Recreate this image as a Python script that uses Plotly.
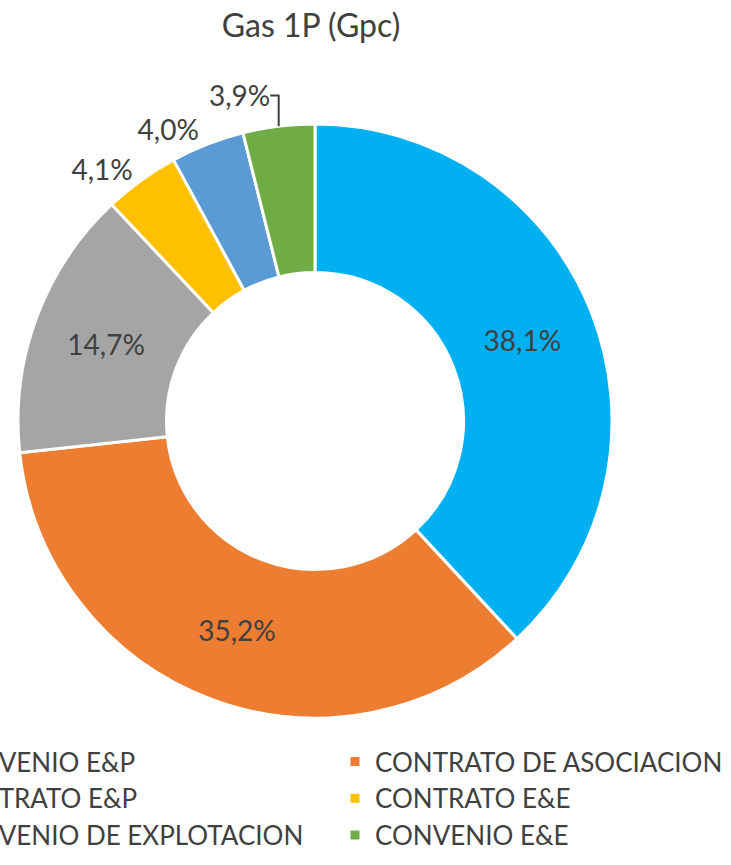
import plotly.graph_objects as go

# slices, clockwise from 12 o'clock
labels = ["CONVENIO E&P", "CONTRATO DE ASOCIACION", "CONTRATO E&P",
          "CONTRATO E&E", "CONVENIO DE EXPLOTACION", "CONVENIO E&E"]
shares = [38.1, 35.2, 14.7, 4.1, 4.0, 3.9]
colors = ["#00B0F0", "#ED7D31", "#A5A5A5", "#FFC000", "#5B9BD5", "#70AD47"]
text_pos = ["inside", "inside", "inside", "outside", "outside", "outside"]

# the reference is cut on the left, so the figure is drawn wider
# and shifted left by this many pixels in the page
W, H = 880, 865
SHIFT = 149

fig = go.Figure()
fig.add_trace(go.Pie(labels=labels,
                     values=shares,
                     sort=False,
                     direction="clockwise",
                     rotation=0,
                     hole=0.5,
                     marker=dict(colors=colors, line=dict(color="white", width=3)),
                     texttemplate="%{percent:.1%}",
                     textposition=text_pos,
                     insidetextorientation="horizontal",
                     textfont=dict(family="Lato", size=28, color="#404040"),
                     outsidetextfont=dict(family="Lato", size=28, color="#404040"),
                     domain=dict(x=[167 / W, 761 / W], y=[1 - 718 / H, 1 - 124 / H])))

fig.update_layout(width=W, height=H,
                  margin=dict(l=0, r=0, t=0, b=0, autoexpand=False),
                  separators=",.",
                  paper_bgcolor="white",
                  font=dict(family="Lato", color="#404040"),
                  title=dict(text="Gas 1P (Gpc)",
                             x=460 / W, xanchor="center",
                             y=1 - 26 / H, yanchor="middle",
                             font=dict(family="Lato", size=32, color="#404040")),
                  legend=dict(orientation="h",
                              x=50 / W, xanchor="left",
                              y=1 - 738 / H, yanchor="top",
                              entrywidth=389, entrywidthmode="pixels",
                              font=dict(family="Lato", size=26, color="#404040")))

shift_js = ("var gd=document.getElementById('{plot_id}');"
            "gd.style.marginLeft='-%dpx';"
            "document.body.style.margin='0';"
            "document.body.style.overflow='hidden';"
            "document.documentElement.style.overflow='hidden';" % SHIFT)

fig.write_html("out.html", config={"displayModeBar": False}, post_script=shift_js)
